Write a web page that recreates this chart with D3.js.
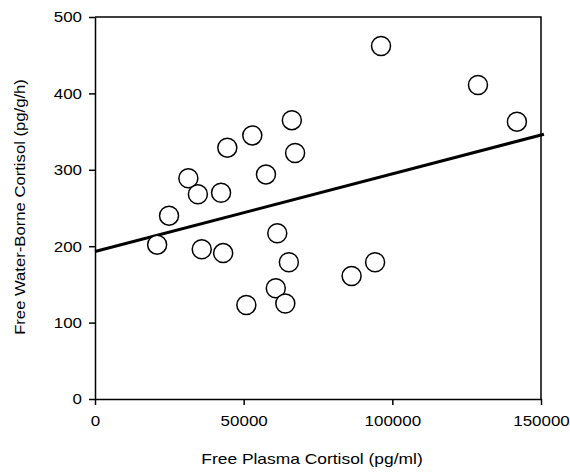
<!DOCTYPE html>
<html>
<head>
<meta charset="utf-8">
<script src="https://cdn.jsdelivr.net/npm/d3@7"></script>
<style>
  body { margin: 0; background: #fff; }
  svg { display: block; }
</style>
</head>
<body>
<svg width="570" height="473"></svg>
<script>
// free plasma cortisol (pg/ml) vs free water-borne cortisol (pg/g/h)
const plasma = [20900, 24900, 31400, 34600, 35900, 42400, 43100, 44500, 50900, 52900, 57500,
                60800, 61300, 64000, 65200, 66200, 67300, 86300, 94200, 96200, 128800, 141900]
const water = [202, 240, 289, 268, 196, 270, 191, 329, 123, 345, 294,
               145, 217, 125, 179, 365, 322, 161, 179, 462, 411, 363]
const xTicks = [0, 50000, 100000, 150000]
const yTicks = [0, 100, 200, 300, 400, 500]
// fitted line
const fitIntercept = 193
const fitSlope = 0.001017
const fitRange = [0, 151000]

const svg = d3.select('svg')
const plotL = 95, plotR = 541, plotT = 17, plotB = 399

const x = d3.scaleLinear().domain([0, 150000]).range([plotL, plotR])
const y = d3.scaleLinear().domain([0, 500]).range([plotB, plotT])

const font = 'Liberation Sans, Arial, sans-serif'
// the original's type is a bit wider than Arial
const widen = (sel, k) => sel.each(function () {
  const w = this.getComputedTextLength()
  d3.select(this).attr('textLength', w * k).attr('lengthAdjust', 'spacingAndGlyphs')
})

// frame top + right
svg.append('path')
  .attr('d', `M${x(0)},${y(500)}H${x(150000)}V${y(0)}`)
  .attr('fill', 'none')
  .attr('stroke', '#000')
  .attr('stroke-width', 1.5)

const xAxis = svg.append('g')
  .attr('transform', `translate(0,${plotB})`)
  .call(d3.axisBottom(x).tickValues(xTicks).tickFormat(d3.format('d')).tickSize(6).tickSizeOuter(0).tickPadding(10))
const yAxis = svg.append('g')
  .attr('transform', `translate(${plotL},0)`)
  .call(d3.axisLeft(y).tickValues(yTicks).tickSize(6).tickSizeOuter(0).tickPadding(7))

svg.selectAll('.domain, .tick line').attr('stroke', '#000').attr('stroke-width', 1.5)
svg.selectAll('.tick text')
  .attr('fill', '#000')
  .style('font-family', font)
  .style('font-size', '15px')
  .call(widen, 1.13)

// regression line
svg.append('line')
  .attr('x1', x(fitRange[0])).attr('y1', y(fitIntercept + fitSlope * fitRange[0]))
  .attr('x2', x(fitRange[1])).attr('y2', y(fitIntercept + fitSlope * fitRange[1]))
  .attr('stroke', '#000')
  .attr('stroke-width', 3)

svg.selectAll('.pt')
  .data(d3.zip(plasma, water))
  .join('circle')
  .classed('pt', true)
  .attr('cx', d => x(d[0]))
  .attr('cy', d => y(d[1]))
  .attr('r', 9.5)
  .attr('fill', '#fff')
  .attr('stroke', '#000')
  .attr('stroke-width', 1.5)

svg.append('text')
  .attr('x', 312).attr('y', 464)
  .attr('text-anchor', 'middle')
  .style('font-family', font)
  .style('font-size', '15px')
  .text('Free Plasma Cortisol (pg/ml)')
  .call(widen, 1.16)

svg.append('text')
  .attr('transform', `translate(25,207) rotate(-90)`)
  .attr('text-anchor', 'middle')
  .style('font-family', font)
  .style('font-size', '15px')
  .text('Free Water-Borne Cortisol (pg/g/h)')
  .call(widen, 1.11)
</script>
</body>
</html>
